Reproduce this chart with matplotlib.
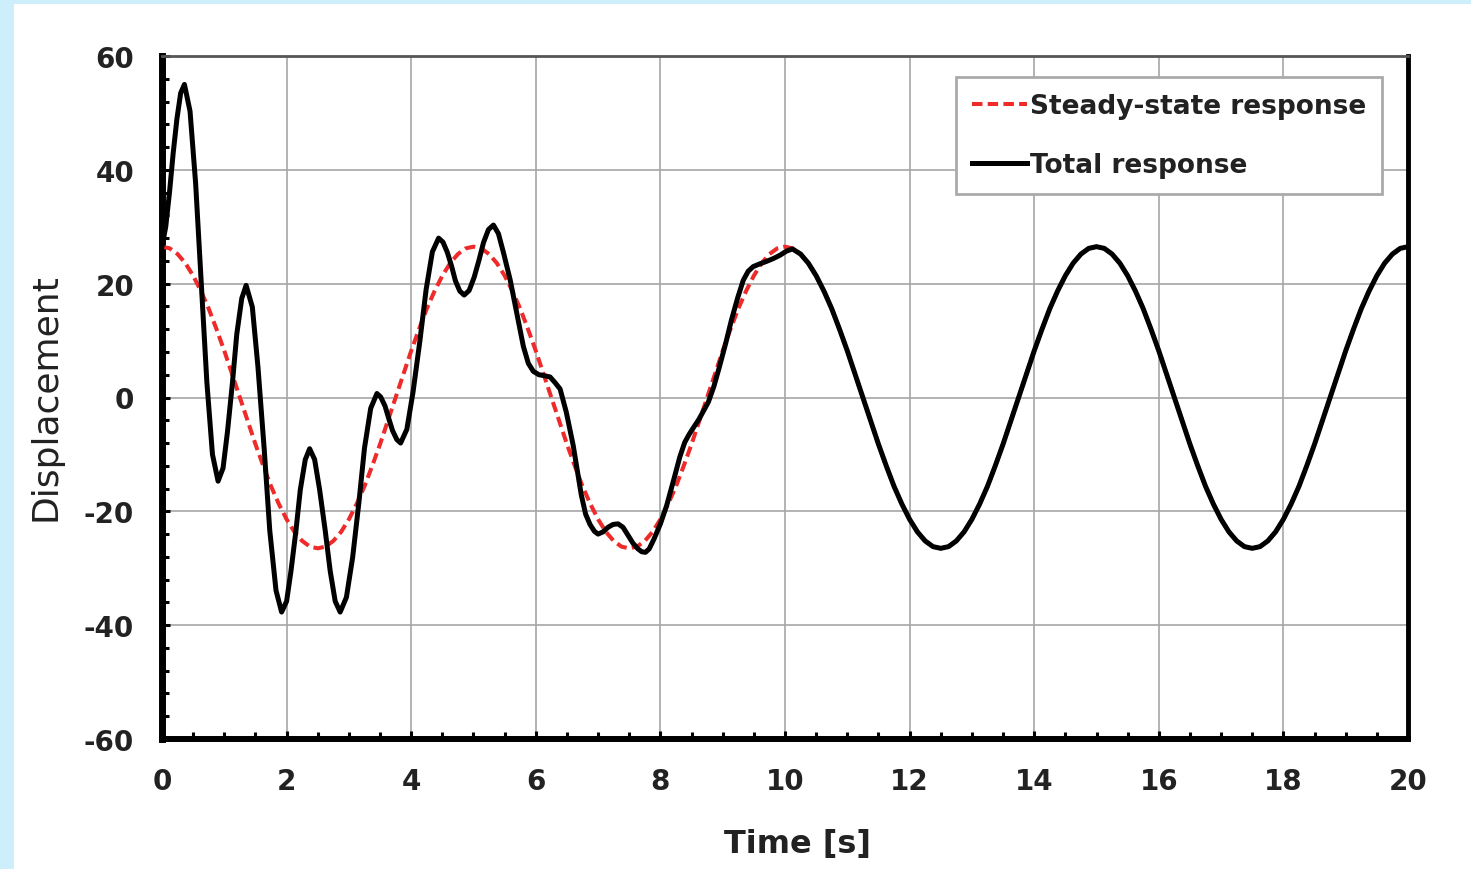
import numpy as np
import matplotlib
matplotlib.use("Agg")
from matplotlib import pyplot as plt
from matplotlib.patches import Rectangle
from matplotlib.ticker import MultipleLocator

plt.rcParams["axes.unicode_minus"] = False

# steady-state response, sampled every 0.125 s from 0 to 20 s
steady_period = [26.5, 26.2, 25.2, 23.6, 21.4, 18.7, 15.6, 12.0, 8.2, 4.1,
                 0.0, -4.1, -8.2, -12.0, -15.6, -18.7, -21.4, -23.6, -25.2, -26.2,
                 -26.5, -26.2, -25.2, -23.6, -21.4, -18.7, -15.6, -12.0, -8.2, -4.1,
                 0.0, 4.1, 8.2, 12.0, 15.6, 18.7, 21.4, 23.6, 25.2, 26.2]
steady_d = steady_period * 4 + [26.5]
steady_t = np.linspace(0, 20, len(steady_d))

# total response up to ~10 s (transient still visible)
total_t_early = [0.00, 0.06, 0.12, 0.18, 0.24, 0.30, 0.36,
                 0.45, 0.54, 0.63, 0.72, 0.81, 0.90,
                 0.98, 1.05, 1.13, 1.20, 1.28, 1.35,
                 1.45, 1.54, 1.64, 1.73, 1.83, 1.92,
                 2.00, 2.07, 2.15, 2.22, 2.30, 2.37,
                 2.45, 2.53, 2.62, 2.70, 2.78, 2.86,
                 2.96, 3.06, 3.16, 3.25, 3.35, 3.45,
                 3.51, 3.58, 3.64, 3.70, 3.77, 3.83,
                 3.93, 4.03, 4.14, 4.24, 4.34, 4.44,
                 4.51, 4.58, 4.65, 4.71, 4.78, 4.85,
                 4.93, 5.01, 5.09, 5.16, 5.24, 5.32,
                 5.40, 5.48, 5.59, 5.70, 5.80, 5.88, 5.96, 6.05, 6.15, 6.23,
                 6.31, 6.39, 6.49, 6.60, 6.73, 6.80, 6.87, 6.94, 7.00, 7.08,
                 7.16, 7.24, 7.32, 7.40, 7.48, 7.56, 7.64, 7.70, 7.76, 7.82,
                 7.90, 8.00, 8.10, 8.23, 8.31, 8.39, 8.46, 8.53, 8.62, 8.70,
                 8.77, 8.86, 8.95, 9.05, 9.14, 9.24, 9.33, 9.41, 9.49, 9.60,
                 9.70, 9.81, 9.92, 10.02, 10.12]
total_d_early = [26.5, 30.0, 36.0, 43.0, 49.0, 53.5, 55.0,
                 50.3, 37.6, 20.2, 2.7, -10.0, -14.7,
                 -12.4, -6.1, 2.5, 11.1, 17.4, 19.7,
                 15.9, 5.4, -9.0, -23.4, -33.9, -37.7,
                 -35.8, -30.5, -23.4, -16.2, -10.9, -9.0,
                 -10.9, -16.2, -23.4, -30.5, -35.8, -37.7,
                 -35.1, -28.1, -18.5, -8.9, -1.9, 0.7,
                 0.1, -1.5, -3.7, -5.8, -7.4, -8.0,
                 -5.6, 1.0, 10.0, 19.0, 25.6, 28.0,
                 27.3, 25.5, 23.0, 20.5, 18.7, 18.0,
                 18.8, 21.1, 24.2, 27.2, 29.5, 30.3,
                 28.8, 25.5, 20.6, 14.5, 9.0, 6.0, 4.6, 4.0, 3.8, 3.6,
                 2.6, 1.5, -2.6, -8.4, -17.1, -20.5, -22.3, -23.5, -24.0, -23.6,
                 -22.8, -22.3, -22.2, -22.8, -24.2, -25.6, -26.6, -27.1, -27.2, -26.6,
                 -24.8, -22.2, -19.0, -13.8, -10.5, -7.9, -6.5, -5.3, -3.8, -2.2,
                 -0.8, 2.0, 5.5, 9.6, 13.6, 17.5, 20.6, 22.2, 23.0, 23.5,
                 23.9, 24.4, 25.0, 25.7, 26.1]

# after ~10 s the total response lies on the steady-state curve
total_t = np.concatenate([total_t_early, steady_t[82:]])
total_d = np.concatenate([total_d_early, steady_d[82:]])

labels = ["Steady-state response", "Total response"]

W, H = 1471, 870
fig = plt.figure(figsize=(W / 100, H / 100), dpi=100)
fig.patch.set_facecolor("#cdeefb")
fig.add_artist(Rectangle((14 / W, 0), 1, 1 - 5 / H, transform=fig.transFigure,
                         facecolor="white", edgecolor="none", zorder=0))

ax = fig.add_axes([162 / W, 1 - 740 / H, (1408 - 162) / W, (740 - 57) / H])

ax.plot(steady_t, steady_d, color="#ee2a2a", lw=2.9, dashes=(2.6, 1.3),
        label=labels[0], zorder=3)
ax.plot(total_t, total_d, color="black", lw=3.6, label=labels[1], zorder=4)

ax.set_xlim(0, 20)
ax.set_ylim(-60, 60)
ax.xaxis.set_major_locator(MultipleLocator(2))
ax.xaxis.set_minor_locator(MultipleLocator(0.5))
ax.yaxis.set_major_locator(MultipleLocator(20))
ax.yaxis.set_minor_locator(MultipleLocator(4))
ax.grid(which="major", color="#a6a6a6", lw=1.2)
ax.set_axisbelow(True)

ax.tick_params(which="both", direction="in", color="black", width=2.2,
               top=False, right=False)
ax.tick_params(which="major", length=6, pad=20, labelsize=20,
               labelcolor="#222222")
ax.tick_params(which="minor", length=5)
for lab in ax.get_xticklabels() + ax.get_yticklabels():
    lab.set_fontweight("bold")

ax.spines["left"].set_linewidth(5)
ax.spines["bottom"].set_linewidth(4.3)
ax.spines["right"].set_linewidth(3.5)
ax.spines["top"].set_linewidth(2)
ax.spines["top"].set_color("#555555")

leg = ax.legend(loc="upper right", bbox_to_anchor=(1382 / W, 1 - 78 / H),
                bbox_transform=fig.transFigure, borderaxespad=0,
                fancybox=False, framealpha=1, edgecolor="#aaaaaa",
                prop={"size": 19, "weight": "bold"}, handlelength=2.1,
                handletextpad=0.1, borderpad=0.6, labelspacing=1.27)
leg.get_frame().set_linewidth(2)
for t in leg.get_texts():
    t.set_color("#222222")

fig.text(798 / W, 1 - 845 / H, "Time [s]", ha="center", va="center",
         fontsize=23, fontweight="bold", color="#222222")
fig.text(45 / W, 1 - 397 / H, "Displacement", ha="center", va="center",
         rotation=90, fontsize=26, color="#222222")

fig.savefig("out.png", dpi=100)
